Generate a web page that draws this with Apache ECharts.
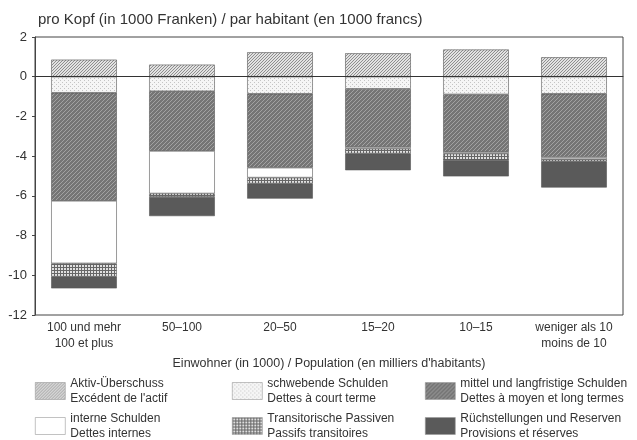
<!DOCTYPE html>
<html>
<head>
<meta charset="utf-8">
<script src="https://cdn.jsdelivr.net/npm/echarts@6/dist/echarts.min.js"></script>
<style>
  html, body { margin: 0; padding: 0; background: #fff; }
  #chart { width: 637px; height: 440px; }
</style>
</head>
<body>
<div id="chart"></div>
<script>
// Kategorien (Gemeindegrösse)
const categories = ['100 und mehr\n100 et plus', '50–100', '20–50', '15–20', '10–15', 'weniger als 10\nmoins de 10']

// Werte pro Kopf in 1000 Fr.
const aktivUeberschuss = [0.86, 0.61, 1.23, 1.18, 1.37, 0.98]
const schwebendeSchulden = [-0.81, -0.73, -0.86, -0.61, -0.89, -0.86]
const mittelLangfristig = [-5.44, -3.01, -3.72, -2.93, -2.90, -3.19]
const interneSchulden = [-3.15, -2.14, -0.50, -0.08, -0.08, -0.10]
const transitorischePassiven = [-0.67, -0.17, -0.30, -0.25, -0.34, -0.11]
const rueckstellungen = [-0.59, -0.97, -0.76, -0.84, -0.81, -1.32]

// kleine Muster für die Flächen
function pattern(size, bg, draw) {
  const c = document.createElement('canvas')
  c.width = size
  c.height = size
  const ctx = c.getContext('2d')
  ctx.fillStyle = bg
  ctx.fillRect(0, 0, size, size)
  draw(ctx, size)
  return {image: c, repeat: 'repeat'}
}
function diag(color, w) {
  return (ctx, s) => {
    ctx.strokeStyle = color
    ctx.lineWidth = w
    ctx.beginPath()
    ctx.moveTo(0, s); ctx.lineTo(s, 0)
    ctx.moveTo(-1, 1); ctx.lineTo(1, -1)
    ctx.moveTo(s - 1, s + 1); ctx.lineTo(s + 1, s - 1)
    ctx.stroke()
  }
}

const fills = {
  aktiv: pattern(3, '#e2e2e2', diag('#8e8e8e', 1)),
  schwebend: pattern(4, '#f5f5f5', (ctx) => {
    ctx.fillStyle = '#c4c4c4'
    ctx.fillRect(0, 0, 1, 1)
    ctx.fillRect(2, 2, 1, 1)
  }),
  mittel: pattern(4, '#757575', diag('#a2a2a2', 1)),
  intern: '#ffffff',
  transit: pattern(3, '#e0e0e0', (ctx) => {
    ctx.fillStyle = '#666'
    ctx.fillRect(0, 0, 3, 1)
    ctx.fillRect(0, 0, 1, 3)
  }),
  rueck: '#5a5a5a',
}

const names = [
  'Aktiv-Überschuss\nExcédent de l\'actif',
  'schwebende Schulden\nDettes à court terme',
  'mittel und langfristige Schulden\nDettes à moyen et long termes',
  'interne Schulden\nDettes internes',
  'Transitorische Passiven\nPassifs transitoires',
  'Rüchstellungen und Reserven\nProvisions et réserves',
]
const values = [aktivUeberschuss, schwebendeSchulden, mittelLangfristig, interneSchulden, transitorischePassiven, rueckstellungen]
const colors = [fills.aktiv, fills.schwebend, fills.mittel, fills.intern, fills.transit, fills.rueck]

const font = 'Liberation Sans, Arial, sans-serif'

const series = names.map((n, i) => ({
  name: n,
  type: 'bar',
  stack: 'total',
  barWidth: '67%',
  data: values[i],
  itemStyle: {color: colors[i], borderColor: '#555', borderWidth: 0.6},
  emphasis: {disabled: true},
}))
// Nulllinie
series[0].markLine = {
  silent: true,
  symbol: 'none',
  label: {show: false},
  lineStyle: {color: '#333', type: 'solid', width: 1},
  data: [{yAxis: 0}],
}

// Legende: 3 Spalten, 2 Zeilen
const legendPos = [
  [35, 376], [232, 376], [425, 376],
  [35, 411], [232, 411], [425, 411],
]
const legends = names.map((n, i) => ({
  data: [n],
  left: legendPos[i][0],
  top: legendPos[i][1],
  padding: 0,
  orient: 'horizontal',
  itemWidth: 30,
  itemHeight: 17,
  itemGap: 0,
  selectedMode: false,
  icon: 'rect',
  itemStyle: {borderColor: '#999', borderWidth: 0.6},
  textStyle: {fontFamily: font, fontSize: 12, color: '#333', lineHeight: 15},
}))

const chart = echarts.init(document.getElementById('chart'))
chart.setOption({
  animation: false,
  title: {
    text: 'pro Kopf (in 1000 Franken) / par habitant (en 1000 francs)',
    left: 33,
    top: 7,
    textStyle: {fontFamily: font, fontSize: 15, fontWeight: 'normal', color: '#333'},
  },
  grid: {
    left: 35, right: 14, top: 37, bottom: 125,
    show: true, borderColor: '#444', borderWidth: 1,
  },
  legend: legends,
  xAxis: {
    type: 'category',
    data: categories,
    name: 'Einwohner (in 1000) / Population (en milliers d\'habitants)',
    nameLocation: 'middle',
    nameGap: 31,
    nameTextStyle: {fontFamily: font, fontSize: 12.5, color: '#333'},
    axisLine: {show: true, lineStyle: {color: '#444'}},
    axisTick: {show: true, inside: true, alignWithLabel: true, length: 7, lineStyle: {color: '#444'}},
    axisLabel: {fontFamily: font, fontSize: 12, color: '#333', lineHeight: 16, margin: 5, interval: 0},
  },
  yAxis: {
    type: 'value',
    min: -12,
    max: 2,
    interval: 2,
    axisLine: {show: true, lineStyle: {color: '#444'}},
    axisTick: {show: true, length: 3, lineStyle: {color: '#444'}},
    splitLine: {show: false},
    axisLabel: {fontFamily: font, fontSize: 13, color: '#333', margin: 8},
  },
  series: series,
})
</script>
</body>
</html>
